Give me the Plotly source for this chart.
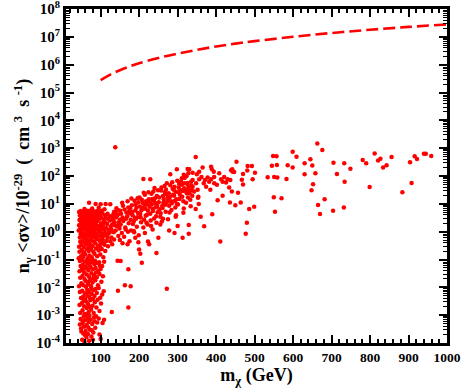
import plotly.graph_objects as go

# points: (m_chi in GeV, n_gamma <sigma v> / 1e-29)
band_1e4 = [
    (52, 1.3e-4), (58, 1.1e-4), (63, 1.6e-4), (70, 1.2e-4), (76, 1.7e-4), (55, 2.2e-4),
    (61, 2.7e-4), (67, 2.1e-4), (81, 2.4e-4), (49, 3.3e-4), (57, 3.8e-4), (72, 3.0e-4),
    (86, 3.5e-4), (64, 4.4e-4), (53, 5.1e-4), (69, 5.7e-4), (78, 4.8e-4), (91, 5.4e-4),
    (59, 6.5e-4), (48, 7.3e-4), (66, 7.8e-4), (74, 6.8e-4), (83, 8.4e-4), (95, 7.6e-4),
    (56, 9.0e-4), (62, 1.0e-3), (71, 9.5e-4), (88, 9.2e-4), (80, 1.3e-4), (60, 1.9e-4),
    (50, 2.6e-4), (68, 3.6e-4), (77, 2.9e-4), (46, 4.6e-4), (84, 6.1e-4), (54, 6.0e-4),
    (100, 1.4e-4), (97, 2.0e-4), (109, 6.8e-4), (105, 5.2e-4),
]
band_1e3 = [
    (47, 1.2e-3), (53, 1.5e-3), (58, 1.1e-3), (64, 1.8e-3), (69, 1.3e-3), (75, 1.6e-3),
    (82, 1.2e-3), (89, 1.9e-3), (97, 1.4e-3), (45, 2.3e-3), (51, 2.7e-3), (57, 2.1e-3),
    (62, 3.1e-3), (67, 2.5e-3), (73, 3.4e-3), (79, 2.2e-3), (85, 2.9e-3), (92, 3.6e-3),
    (101, 2.6e-3), (49, 4.1e-3), (55, 4.7e-3), (60, 3.9e-3), (66, 5.2e-3), (71, 4.4e-3),
    (77, 5.8e-3), (84, 4.9e-3), (90, 6.3e-3), (104, 5.5e-3), (46, 6.8e-3), (52, 7.5e-3),
    (59, 6.1e-3), (65, 8.2e-3), (70, 7.0e-3), (76, 9.1e-3), (81, 7.8e-3), (87, 8.7e-3),
    (95, 9.4e-3), (63, 1.1e-3), (72, 2.0e-3), (56, 3.3e-3), (80, 3.8e-3), (68, 6.6e-3),
    (99, 4.2e-3), (108, 7.2e-3), (129, 1.3e-3), (172, 1.9e-3), (145, 7.6e-3), (272, 8.9e-3),
]
band_1e2 = [
    (44, 1.1e-2), (50, 1.4e-2), (55, 1.2e-2), (61, 1.7e-2), (67, 1.3e-2), (73, 1.9e-2),
    (79, 1.5e-2), (86, 1.8e-2), (93, 1.2e-2), (102, 1.6e-2), (47, 2.2e-2), (53, 2.6e-2),
    (58, 2.0e-2), (64, 2.9e-2), (70, 2.4e-2), (76, 3.2e-2), (83, 2.7e-2), (90, 2.3e-2),
    (97, 3.0e-2), (106, 2.5e-2), (45, 3.8e-2), (51, 4.3e-2), (57, 3.5e-2), (63, 4.8e-2),
    (68, 4.1e-2), (74, 5.3e-2), (80, 4.5e-2), (87, 5.0e-2), (94, 3.9e-2), (100, 4.6e-2),
    (48, 5.9e-2), (54, 6.6e-2), (60, 5.6e-2), (66, 7.2e-2), (71, 6.2e-2), (77, 7.9e-2),
    (84, 6.8e-2), (91, 7.5e-2), (98, 6.0e-2), (109, 8.3e-2), (46, 8.8e-2), (52, 9.6e-2),
    (59, 8.5e-2), (65, 9.2e-2), (72, 8.9e-2), (78, 9.8e-2), (85, 9.0e-2), (62, 1.05e-2),
    (75, 1.1e-2), (88, 3.4e-2), (56, 5.0e-2), (69, 1.6e-2), (81, 2.1e-2), (96, 8.0e-2),
    (104, 5.8e-2), (163, 1.2e-2), (178, 1.1e-2), (172, 4.5e-2), (207, 7.6e-2),
    (152, 8.9e-2), (144, 9.1e-2),
]
band_1e1 = [
    (43, 0.11), (49, 0.13), (54, 0.12), (60, 0.15), (66, 0.11), (71, 0.14), (77, 0.12),
    (84, 0.16), (91, 0.13), (99, 0.15), (107, 0.12), (45, 0.19), (51, 0.22), (57, 0.18),
    (63, 0.24), (69, 0.20), (75, 0.23), (81, 0.19), (88, 0.25), (95, 0.21), (103, 0.24),
    (112, 0.20), (44, 0.29), (50, 0.33), (56, 0.28), (62, 0.36), (68, 0.31), (73, 0.35),
    (79, 0.30), (86, 0.38), (93, 0.32), (101, 0.37), (110, 0.34), (47, 0.43), (53, 0.48),
    (58, 0.41), (64, 0.52), (70, 0.45), (76, 0.50), (82, 0.44), (89, 0.55), (97, 0.47),
    (105, 0.53), (115, 0.46), (46, 0.62), (52, 0.68), (59, 0.60), (65, 0.73), (71, 0.65),
    (78, 0.70), (85, 0.63), (92, 0.76), (100, 0.66), (108, 0.72), (118, 0.61), (48, 0.82),
    (54, 0.88), (61, 0.80), (67, 0.93), (74, 0.85), (80, 0.90), (87, 0.83), (94, 0.95),
    (102, 0.87), (111, 0.92), (120, 0.84), (55, 0.16), (72, 0.27), (90, 0.58), (63, 0.40),
    (83, 0.78), (98, 0.29), (114, 0.75), (124, 0.95), (106, 0.41), (125, 0.45), (130, 0.35),
    (135, 0.52), (128, 0.62), (119, 0.30), (157, 0.38), (198, 0.42), (223, 0.44),
    (200, 0.23), (203, 0.16), (245, 0.17),
]
band_top = [
    (43, 1.1), (47, 1.3), (51, 1.05), (55, 1.2), (59, 1.4), (63, 1.1), (67, 1.25), (71, 1.5),
    (75, 1.15), (79, 1.35), (83, 1.05), (87, 1.45), (91, 1.2), (95, 1.3), (99, 1.1), (104, 1.4),
    (109, 1.2), (114, 1.35), (120, 1.15), (126, 1.5), (44, 1.7), (48, 1.9), (52, 1.6), (56, 2.0),
    (60, 1.75), (64, 2.2), (68, 1.65), (72, 1.95), (76, 2.3), (80, 1.7), (84, 2.1), (88, 1.8),
    (92, 2.4), (96, 1.6), (101, 2.0), (106, 1.75), (111, 2.2), (117, 1.9), (123, 2.5), (130, 1.8),
    (136, 2.2), (45, 2.6), (49, 2.9), (53, 2.5), (57, 3.1), (61, 2.7), (65, 3.3), (69, 2.6),
    (73, 3.0), (77, 3.5), (81, 2.8), (85, 3.2), (89, 2.7), (93, 3.4), (97, 2.9), (102, 3.1),
    (108, 2.6), (113, 3.3), (119, 2.9), (125, 3.6), (132, 2.8), (140, 3.2), (46, 3.8), (50, 4.2),
    (54, 3.7), (58, 4.5), (62, 4.0), (66, 4.6), (70, 3.9), (74, 4.3), (78, 4.8), (82, 4.1),
    (86, 4.4), (90, 3.8), (94, 4.7), (99, 4.0), (105, 4.5), (112, 3.9), (118, 4.4), (44, 5.1),
    (48, 5.5), (53, 5.0), (57, 5.3), (61, 4.9), (65, 5.6), (69, 5.2), (73, 5.7), (77, 5.0),
    (81, 5.4), (86, 5.1), (91, 5.5), (97, 5.2), (103, 5.6), (70, 11.0), (87, 9.8), (100, 9.6),
    (113, 9.9), (125, 9.7), (58, 6.5), (78, 6.8), (95, 7.2), (110, 6.4), (135, 5.2), (145, 4.1),
    (142, 1.6), (150, 2.7), (128, 1.2), (138, 1070),
]
rising = [
    (131, 2.6), (146, 0.7), (138, 5.1), (149, 1.3), (134, 0.95), (143, 3.8), (136, 1.7),
    (141, 7.0), (147, 2.2), (133, 4.2), (150, 0.5), (139, 1.1), (145, 6.0), (132, 3.1),
    (148, 1.6), (153, 4.4), (171, 1.0), (158, 8.6), (166, 2.9), (152, 1.8), (174, 5.3),
    (161, 0.65), (169, 3.6), (156, 11.0), (164, 1.4), (172, 7.4), (159, 2.4), (155, 0.9),
    (167, 4.9), (173, 2.0), (162, 6.3), (157, 3.2), (170, 12.5), (151, 5.6), (165, 1.2),
    (177, 6.8), (194, 1.5), (183, 3.9), (198, 11.5), (179, 1.1), (190, 5.8), (186, 2.3),
    (196, 16.0), (181, 8.9), (192, 2.9), (176, 4.6), (199, 0.75), (188, 13.0), (184, 1.9),
    (197, 4.7), (178, 2.7), (191, 9.4), (182, 5.1), (195, 3.3), (187, 0.95), (193, 7.2),
    (180, 15.5), (189, 3.1), (202, 8.0), (219, 2.1), (207, 14.0), (223, 5.7), (204, 3.2),
    (215, 21.0), (211, 1.4), (221, 9.5), (206, 5.9), (217, 3.7), (224, 26.0), (209, 11.0),
    (213, 2.7), (201, 17.0), (222, 1.8), (208, 7.1), (218, 12.5), (203, 4.3), (216, 6.6),
    (212, 25.0), (220, 4.0), (205, 2.2), (214, 9.0), (225, 14.5), (228, 11.5), (244, 3.6),
    (232, 23.0), (247, 8.4), (230, 2.5), (241, 16.0), (236, 5.5), (249, 31.0), (227, 7.9),
    (238, 13.5), (245, 2.1), (233, 9.6), (240, 37.0), (229, 4.4), (246, 19.0), (235, 6.7),
    (242, 10.8), (231, 1.6), (248, 5.0), (237, 28.0), (243, 7.6), (234, 15.0), (239, 3.0),
]
rising_upper = [
    (252, 17.0), (269, 5.2), (257, 30.0), (273, 12.0), (255, 3.4), (266, 44.0), (260, 8.3),
    (271, 22.0), (253, 6.4), (264, 14.5), (275, 2.8), (258, 39.0), (268, 9.2), (262, 19.0),
    (251, 11.5), (272, 55.0), (256, 4.6), (267, 26.0), (261, 7.1), (274, 16.5), (259, 2.3),
    (270, 33.0), (263, 11.0), (277, 24.0), (294, 7.4), (281, 47.0), (297, 14.5), (279, 4.9),
    (290, 32.0), (285, 10.5), (299, 68.0), (276, 15.5), (288, 21.0), (296, 3.9), (283, 12.3),
    (292, 41.0), (278, 8.6), (295, 27.0), (286, 60.0), (280, 17.5), (298, 10.0), (284, 6.0),
    (291, 19.5), (287, 35.0), (293, 13.0), (303, 38.0), (322, 11.0), (308, 62.0), (331, 24.0),
    (305, 15.0), (318, 85.0), (313, 29.0), (336, 46.0), (301, 9.5), (327, 17.0), (311, 48.0),
    (334, 8.2), (306, 21.0), (320, 33.0), (339, 72.0), (315, 12.5), (325, 56.0), (302, 26.0),
    (329, 39.0), (316, 6.8), (338, 19.5), (309, 31.0), (323, 98.0), (333, 14.0), (312, 18.0),
    (326, 27.5), (304, 52.0), (337, 31.0), (211, 78), (229, 76), (281, 115), (298, 175),
    (329, 175), (175, 0.45), (190, 0.6), (215, 0.9), (235, 1.2), (262, 2.9), (278, 1.1),
    (300, 1.6), (292, 0.9), (250, 0.6), (226, 0.35), (170, 0.35), (186, 1.05), (255, 1.8),
    (315, 4.8), (295, 3.4),
]
middle = [
    (326, 178), (330, 174), (316, 110), (328, 126), (339, 132), (350, 115), (356, 141),
    (365, 204), (362, 93), (371, 72), (378, 89), (387, 214), (389, 174), (394, 141), (395, 93),
    (408, 126), (413, 76), (421, 93), (430, 76), (439, 162), (443, 141), (437, 72), (317, 55),
    (326, 48), (335, 62), (339, 41), (348, 55), (356, 76), (368, 55), (374, 41), (385, 32),
    (395, 55), (402, 48), (417, 62), (426, 58), (434, 39), (441, 28), (322, 28), (327, 33),
    (343, 28), (352, 32), (309, 62), (311, 83), (317, 36), (324, 24), (354, 18), (387, 76),
    (382, 62), (347, 479), (453, 324), (482, 229), (493, 229), (481, 158), (501, 132),
    (470, 117), (442, 174), (447, 138), (495, 76), (467, 74), (470, 50), (457, 25), (436, 11.2),
    (464, 11.2), (450, 8.9), (404, 13.5), (417, 19.5), (499, 7.9), (486, 6.5), (390, 4.2),
    (347, 6.5), (355, 9.8), (353, 16.6), (360, 3.4), (369, 1.55), (329, 1.74), (480, 2.1),
    (477, 0.85), (411, 0.44), (329, 0.85), (313, 0.6),
]
sparse = [
    (548, 525), (557, 513), (599, 741), (609, 490), (545, 234), (558, 251), (586, 245),
    (599, 204), (534, 91), (551, 93), (559, 89), (583, 78), (550, 17.4), (570, 15.8), (553, 5.2),
    (663, 1480), (676, 851), (630, 288), (645, 398), (650, 240), (630, 115), (658, 126),
    (652, 51), (648, 31), (682, 14.5), (665, 9.1), (670, 4.3), (705, 302), (714, 117),
    (704, 5.6), (733, 288), (749, 182), (734, 62), (732, 7.4), (781, 372), (790, 288),
    (812, 646), (821, 363), (827, 417), (834, 200), (843, 245), (856, 479), (799, 40),
    (884, 26), (904, 309), (916, 513), (908, 56), (922, 407), (940, 631), (945, 631),
    (959, 525),
]

# dashed upper curve
curve_mass = [100, 125, 150, 175, 200, 250, 300, 350, 400, 450, 500, 600, 700, 800, 900, 1000]
curve_rate = [2.8e5, 4.4e5, 6.3e5, 8.6e5, 1.12e6, 1.75e6, 2.5e6, 3.4e6, 4.5e6, 5.7e6, 7.0e6,
              1.0e7, 1.37e7, 1.8e7, 2.27e7, 2.8e7]

y_exponents = [-4, -3, -2, -1, 0, 1, 2, 3, 4, 5, 6, 7, 8]
x_ticks = [100, 200, 300, 400, 500, 600, 700, 800, 900, 1000]

RED = "#ff0000"
FONT = "Liberation Serif"

fig = go.Figure()
for pts in [band_1e4, band_1e3, band_1e2, band_1e1, band_top, rising, rising_upper, middle, sparse]:
    fig.add_trace(go.Scatter(
        x=[p[0] for p in pts], y=[p[1] for p in pts], mode="markers",
        marker=dict(color=RED, size=4.5, line=dict(width=0)),
        showlegend=False, hoverinfo="skip",
    ))

fig.add_trace(go.Scatter(
    x=curve_mass, y=curve_rate, mode="lines",
    line=dict(color=RED, width=2.6, dash="12px,5px", shape="spline"),
    showlegend=False,
))

# minor ticks for the log axis (2..9 in each decade)
y_minor = [k * 10.0 ** e for e in y_exponents[:-1] for k in range(2, 10)]

fig.update_layout(
    width=463, height=390,
    margin=dict(l=66, r=16, t=9, b=47),
    paper_bgcolor="white", plot_bgcolor="white",
    font=dict(family=FONT, color="black", size=13, weight="bold"),
    xaxis=dict(
        range=[10, 1000], tickmode="array", tickvals=x_ticks, automargin=False,
        ticklabeloverflow="allow",
        ticks="inside", ticklen=8, tickwidth=2, tickcolor="black",
        minor=dict(ticks="inside", ticklen=4, tickwidth=1.5, tickcolor="black", dtick=20, tick0=0),
        showline=True, linewidth=3, linecolor="black", mirror="allticks",
        showgrid=False, zeroline=False,
        tickfont=dict(family=FONT, size=13.5, weight="bold"),
        title=dict(text="m<sub>χ</sub> (GeV)", font=dict(family=FONT, size=18, weight="bold"), standoff=0),
    ),
    yaxis=dict(
        type="log", range=[-4, 8], tickmode="array", automargin=False,
        ticklabeloverflow="allow",
        tickvals=[10.0 ** e for e in y_exponents],
        ticktext=[f"10<sup>{e}</sup>" for e in y_exponents],
        ticks="inside", ticklen=8, tickwidth=2, tickcolor="black",
        minor=dict(ticks="inside", ticklen=4, tickwidth=1, tickcolor="black", tickmode="array", tickvals=y_minor),
        showline=True, linewidth=3, linecolor="black", mirror="allticks",
        showgrid=False, zeroline=False,
        tickfont=dict(family=FONT, size=15, weight="bold"),
        title=dict(
            text="n<sub>γ</sub> &lt;σv&gt;/10<sup>-29</sup>  (  cm <sup>3</sup>  s <sup>-1</sup>)",
            font=dict(family=FONT, size=18, weight="bold"), standoff=0,
        ),
    ),
)

# the page body has a default 8px margin; drop it so the figure sits at the window corner
fig.write_html(
    "out.html",
    config={"displayModeBar": False},
    post_script="document.body.style.margin='0';",
)
